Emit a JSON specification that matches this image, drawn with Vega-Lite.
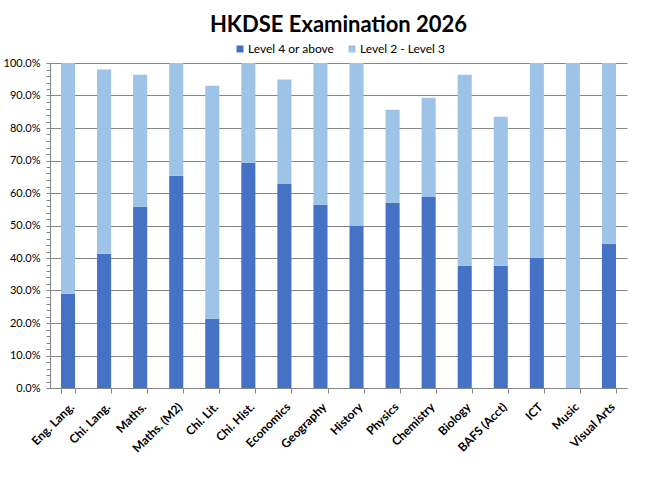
{
  "$schema": "https://vega.github.io/schema/vega-lite/v6.json",
  "autosize": "none",
  "padding": {"left": 50, "top": 63, "right": 31, "bottom": 107},
  "width": 577,
  "height": 325,
  "background": "white",
  "title": {
    "text": "HKDSE Examination 2026",
    "anchor": "middle",
    "font": "Lato",
    "fontSize": 22,
    "fontWeight": "bold",
    "color": "black",
    "offset": 6
  },
  "data": {
    "values": [
      {"subject": "Eng. Lang.", "level": "Level 4 or above", "value": 0.290},
      {"subject": "Eng. Lang.", "level": "Level 2 - Level 3", "value": 0.710},
      {"subject": "Chi. Lang.", "level": "Level 4 or above", "value": 0.413},
      {"subject": "Chi. Lang.", "level": "Level 2 - Level 3", "value": 0.567},
      {"subject": "Maths.", "level": "Level 4 or above", "value": 0.558},
      {"subject": "Maths.", "level": "Level 2 - Level 3", "value": 0.406},
      {"subject": "Maths. (M2)", "level": "Level 4 or above", "value": 0.653},
      {"subject": "Maths. (M2)", "level": "Level 2 - Level 3", "value": 0.347},
      {"subject": "Chi. Lit.", "level": "Level 4 or above", "value": 0.213},
      {"subject": "Chi. Lit.", "level": "Level 2 - Level 3", "value": 0.717},
      {"subject": "Chi. Hist.", "level": "Level 4 or above", "value": 0.693},
      {"subject": "Chi. Hist.", "level": "Level 2 - Level 3", "value": 0.307},
      {"subject": "Economics", "level": "Level 4 or above", "value": 0.628},
      {"subject": "Economics", "level": "Level 2 - Level 3", "value": 0.321},
      {"subject": "Geography", "level": "Level 4 or above", "value": 0.564},
      {"subject": "Geography", "level": "Level 2 - Level 3", "value": 0.436},
      {"subject": "History", "level": "Level 4 or above", "value": 0.500},
      {"subject": "History", "level": "Level 2 - Level 3", "value": 0.500},
      {"subject": "Physics", "level": "Level 4 or above", "value": 0.570},
      {"subject": "Physics", "level": "Level 2 - Level 3", "value": 0.286},
      {"subject": "Chemistry", "level": "Level 4 or above", "value": 0.589},
      {"subject": "Chemistry", "level": "Level 2 - Level 3", "value": 0.304},
      {"subject": "Biology", "level": "Level 4 or above", "value": 0.376},
      {"subject": "Biology", "level": "Level 2 - Level 3", "value": 0.588},
      {"subject": "BAFS (Acct)", "level": "Level 4 or above", "value": 0.376},
      {"subject": "BAFS (Acct)", "level": "Level 2 - Level 3", "value": 0.459},
      {"subject": "ICT", "level": "Level 4 or above", "value": 0.400},
      {"subject": "ICT", "level": "Level 2 - Level 3", "value": 0.600},
      {"subject": "Music", "level": "Level 4 or above", "value": 0.0},
      {"subject": "Music", "level": "Level 2 - Level 3", "value": 1.0},
      {"subject": "Visual Arts", "level": "Level 4 or above", "value": 0.444},
      {"subject": "Visual Arts", "level": "Level 2 - Level 3", "value": 0.556}
    ]
  },
  "mark": {"type": "bar"},
  "encoding": {
    "x": {
      "field": "subject",
      "type": "nominal",
      "sort": null,
      "title": null,
      "scale": {"paddingInner": 0.61, "paddingOuter": 0.305},
      "axis": {
        "labelAngle": -45,
        "labelFont": "Lato",
        "labelFontSize": 12,
        "labelFontWeight": "bold",
        "labelColor": "black",
        "labelPadding": 8,
        "tickBand": "extent",
        "tickSize": 5,
        "tickColor": "#868686",
        "domainColor": "#868686",
        "grid": false
      }
    },
    "y": {
      "field": "value",
      "type": "quantitative",
      "stack": "zero",
      "title": null,
      "scale": {"domain": [0, 1], "nice": false},
      "axis": {
        "values": [0, 0.02, 0.04, 0.06, 0.08, 0.1, 0.12, 0.14, 0.16, 0.18, 0.2, 0.22, 0.24, 0.26, 0.28, 0.3, 0.32, 0.34, 0.36, 0.38, 0.4, 0.42, 0.44, 0.46, 0.48, 0.5, 0.52, 0.54, 0.56, 0.58, 0.6, 0.62, 0.64, 0.66, 0.68, 0.7, 0.72, 0.74, 0.76, 0.78, 0.8, 0.82, 0.84, 0.86, 0.88, 0.9, 0.92, 0.94, 0.96, 0.98, 1],
        "labelExpr": "round(datum.value * 100) % 10 === 0 ? format(datum.value, '.1%') : ''",
        "labelFont": "Lato",
        "labelFontSize": 11,
        "labelColor": "black",
        "labelPadding": 6,
        "tickSize": 4,
        "tickColor": "#868686",
        "domainColor": "#868686",
        "gridColor": "#868686",
        "gridOpacity": {"condition": {"test": "round(datum.value * 100) % 10 === 0", "value": 1}, "value": 0}
      }
    },
    "color": {
      "field": "level",
      "type": "nominal",
      "sort": ["Level 4 or above", "Level 2 - Level 3"],
      "scale": {"domain": ["Level 4 or above", "Level 2 - Level 3"], "range": ["#4472C4", "#9DC3E6"]},
      "legend": {
        "orient": "none",
        "legendX": 184,
        "legendY": -20,
        "direction": "horizontal",
        "title": null,
        "symbolType": "square",
        "symbolSize": 49,
        "symbolStrokeWidth": 0,
        "labelOffset": 2,
        "labelFont": "Lato",
        "labelFontSize": 12,
        "labelColor": "black",
        "columnPadding": 11
      }
    },
    "order": {"field": "level", "sort": "descending"}
  },
  "config": {
    "view": {"stroke": null}
  }
}
